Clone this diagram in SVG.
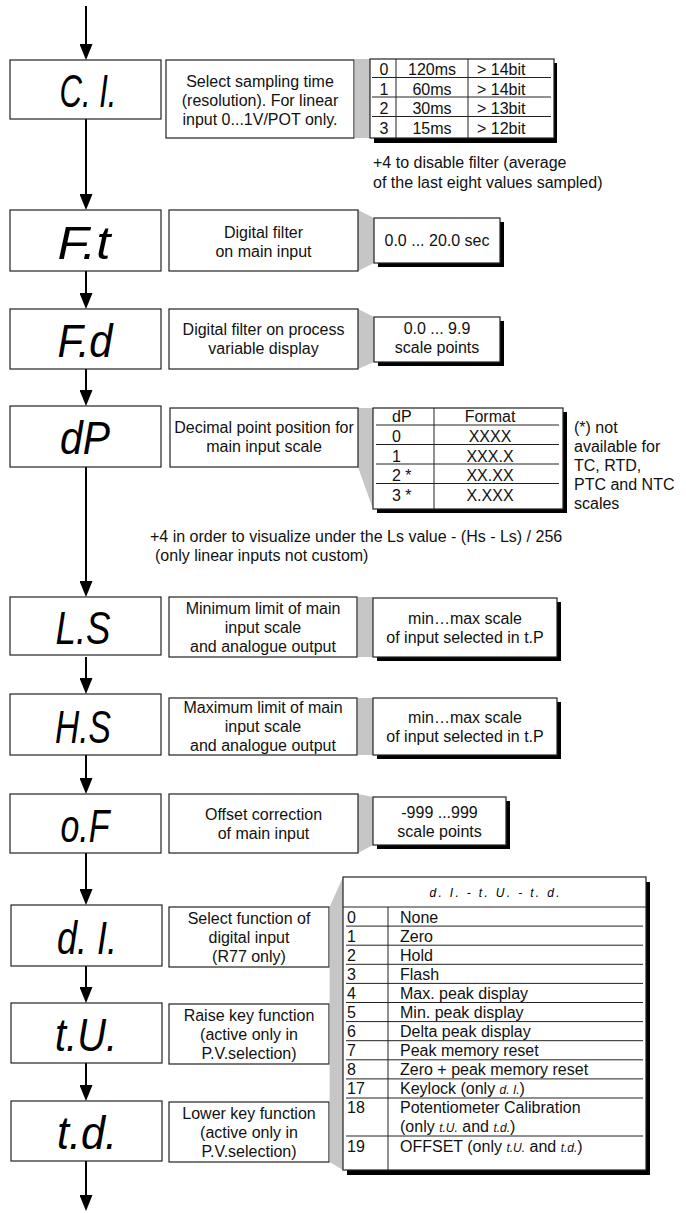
<svg xmlns="http://www.w3.org/2000/svg" width="686" height="1213" viewBox="0 0 686 1213">
<defs>
<marker id="ah" markerUnits="userSpaceOnUse" markerWidth="16" markerHeight="13" refX="8" refY="6.5" orient="auto">
<path d="M0,0 L16,6.5 L0,13 z" fill="#000"/>
</marker>
<style>
.box{fill:#fff;stroke:#222;stroke-width:1.2}
.sh{fill:#000}
.gr{fill:#c6c6c6}
.ln{stroke:#222;stroke-width:1;fill:none}
.t{font-family:"Liberation Sans",Arial,sans-serif;font-size:16px;fill:#111}
.c{text-anchor:middle}
.seg{font-family:"Liberation Sans",Arial,sans-serif;font-style:italic;font-size:46px;fill:#000;text-anchor:middle}
.ss{font-family:"Liberation Sans",Arial,sans-serif;font-style:italic;font-size:12px}
.ar{stroke:#000;stroke-width:2;fill:none;marker-end:url(#ah)}
</style>
</defs>
<rect width="686" height="1213" fill="#fff"/>

<g id="connectors">
<line class="ar" x1="86" y1="6" x2="86" y2="52"/>
<line class="ar" x1="86" y1="119" x2="86" y2="202"/>
<line class="ar" x1="86" y1="271" x2="86" y2="301"/>
<line class="ar" x1="86" y1="369" x2="86" y2="398"/>
<line class="ar" x1="86" y1="467" x2="86" y2="589"/>
<line class="ar" x1="86" y1="657" x2="86" y2="686"/>
<line class="ar" x1="86" y1="755" x2="86" y2="786"/>
<line class="ar" x1="86" y1="853" x2="86" y2="897"/>
<line class="ar" x1="86" y1="966" x2="86" y2="995"/>
<line class="ar" x1="86" y1="1063" x2="86" y2="1093"/>
<line class="ar" x1="86" y1="1161" x2="86" y2="1203"/>
</g>

<g id="node-CI">
<rect class="box" x="10" y="60" width="151" height="59"/>
<text class="seg" x="88" y="107" textLength="57" lengthAdjust="spacingAndGlyphs">C. I.</text>
<rect class="box" x="166" y="60" width="188" height="78"/>
<text class="t c" x="260" y="87">Select sampling time</text>
<text class="t c" x="260" y="106">(resolution). For linear</text>
<text class="t c" x="260" y="125">input 0...1V/POT only.</text>
<rect class="gr" x="354.6" y="59" width="15.4" height="79"/>
<rect class="sh" x="374" y="63" width="183" height="80"/>
<rect class="box" x="370" y="59" width="184" height="79"/>
<line class="ln" x1="372" y1="77.5" x2="551" y2="77.5"/>
<line class="ln" x1="372" y1="97" x2="551" y2="97"/>
<line class="ln" x1="372" y1="116.5" x2="551" y2="116.5"/>
<line class="ln" x1="396" y1="59" x2="396" y2="138"/>
<line class="ln" x1="468" y1="59" x2="468" y2="138"/>
<text class="t c" x="384" y="75">0</text>
<text class="t c" x="432" y="75">120ms</text>
<text class="t" x="477" y="75">&gt; 14bit</text>
<text class="t c" x="384" y="94.5">1</text>
<text class="t c" x="432" y="94.5">60ms</text>
<text class="t" x="477" y="94.5">&gt; 14bit</text>
<text class="t c" x="384" y="114">2</text>
<text class="t c" x="432" y="114">30ms</text>
<text class="t" x="477" y="114">&gt; 13bit</text>
<text class="t c" x="384" y="133.5">3</text>
<text class="t c" x="432" y="133.5">15ms</text>
<text class="t" x="477" y="133.5">&gt; 12bit</text>
<text class="t" x="373" y="168">+4 to disable filter (average</text>
<text class="t" x="373" y="188">of the last eight values sampled)</text>
</g>

<g id="node-Ft">
<rect class="box" x="10" y="210" width="151" height="61"/>
<text class="seg" x="84" y="259" textLength="53" lengthAdjust="spacingAndGlyphs">F.t</text>
<polygon class="gr" points="358,210 374,218 374,263 358,271"/>
<rect class="box" x="169" y="210" width="189" height="61"/>
<text class="t c" x="263.5" y="238">Digital filter</text>
<text class="t c" x="263.5" y="257">on main input</text>
<rect class="sh" x="378" y="222" width="126" height="45"/>
<rect class="box" x="374" y="218" width="126" height="45"/>
<text class="t c" x="437" y="246">0.0 ... 20.0 sec</text>
</g>

<g id="node-Fd">
<rect class="box" x="10" y="309" width="151" height="60"/>
<text class="seg" x="85" y="357" textLength="55" lengthAdjust="spacingAndGlyphs">F.d</text>
<polygon class="gr" points="358,309 374,317 374,362 358,369"/>
<rect class="box" x="169" y="309" width="189" height="60"/>
<text class="t c" x="263.5" y="335">Digital filter on process</text>
<text class="t c" x="263.5" y="354">variable display</text>
<rect class="sh" x="378" y="321" width="126" height="45"/>
<rect class="box" x="374" y="317" width="126" height="45"/>
<text class="t c" x="437" y="334">0.0 ... 9.9</text>
<text class="t c" x="437" y="353">scale points</text>
</g>

<g id="node-dP">
<rect class="box" x="10" y="406" width="151" height="61"/>
<text class="seg" x="85" y="454" textLength="50" lengthAdjust="spacingAndGlyphs">dP</text>
<polygon class="gr" points="358,408 373,408 373,509 358,467"/>
<rect class="box" x="170" y="408" width="188" height="59"/>
<text class="t c" x="264" y="433">Decimal point position for</text>
<text class="t c" x="264" y="452">main input scale</text>
<rect class="sh" x="377" y="412" width="190" height="101"/>
<rect class="box" x="373" y="408" width="190" height="101"/>
<line class="ln" x1="376" y1="425" x2="559" y2="425"/>
<line class="ln" x1="376" y1="444.5" x2="559" y2="444.5"/>
<line class="ln" x1="376" y1="464" x2="559" y2="464"/>
<line class="ln" x1="376" y1="483.5" x2="559" y2="483.5"/>
<line class="ln" x1="434" y1="408" x2="434" y2="509"/>
<text class="t" x="392" y="422">dP</text>
<text class="t c" x="490" y="422">Format</text>
<text class="t" x="392" y="442">0</text>
<text class="t c" x="490" y="442">XXXX</text>
<text class="t" x="392" y="461.5">1</text>
<text class="t c" x="490" y="461.5">XXX.X</text>
<text class="t" x="392" y="481">2 *</text>
<text class="t c" x="490" y="481">XX.XX</text>
<text class="t" x="392" y="500.5">3 *</text>
<text class="t c" x="490" y="500.5">X.XXX</text>
<text class="t" x="574" y="433">(*) not</text>
<text class="t" x="574" y="452">available for</text>
<text class="t" x="574" y="471">TC, RTD,</text>
<text class="t" x="574" y="490">PTC and NTC</text>
<text class="t" x="574" y="509">scales</text>
<text class="t" x="150" y="542">+4 in order to visualize under the Ls value - (Hs - Ls) / 256</text>
<text class="t" x="155" y="561">(only linear inputs not custom)</text>
</g>

<g id="node-LS">
<rect class="box" x="10" y="597" width="151" height="58"/>
<text class="seg" x="83" y="644" textLength="55" lengthAdjust="spacingAndGlyphs">L.S</text>
<rect class="gr" x="357.6" y="597" width="15.4" height="60"/>
<rect class="box" x="169" y="597" width="188" height="60"/>
<text class="t c" x="263" y="614">Minimum limit of main</text>
<text class="t c" x="263" y="633">input scale</text>
<text class="t c" x="263" y="652">and analogue output</text>
<rect class="sh" x="377" y="602" width="184" height="59"/>
<rect class="box" x="373" y="598" width="184" height="59"/>
<text class="t c" x="465" y="623.5">min…max scale</text>
<text class="t c" x="465" y="642.5">of input selected in t.P</text>
</g>

<g id="node-HS">
<rect class="box" x="10" y="694" width="151" height="61"/>
<text class="seg" x="83" y="743" textLength="56" lengthAdjust="spacingAndGlyphs">H.S</text>
<rect class="gr" x="357.6" y="698" width="15.4" height="57"/>
<rect class="box" x="169" y="698" width="188" height="57"/>
<text class="t c" x="263" y="713">Maximum limit of main</text>
<text class="t c" x="263" y="732">input scale</text>
<text class="t c" x="263" y="751">and analogue output</text>
<rect class="sh" x="377" y="702" width="184" height="57"/>
<rect class="box" x="373" y="698" width="184" height="57"/>
<text class="t c" x="465" y="722.5">min…max scale</text>
<text class="t c" x="465" y="741.5">of input selected in t.P</text>
</g>

<g id="node-oF">
<rect class="box" x="10" y="794" width="151" height="59"/>
<text class="seg" x="85" y="842" textLength="49" lengthAdjust="spacingAndGlyphs">o.F</text>
<polygon class="gr" points="358,794 373,797 373,845 358,853"/>
<rect class="box" x="169" y="794" width="189" height="59"/>
<text class="t c" x="263.5" y="820">Offset correction</text>
<text class="t c" x="263.5" y="839">of main input</text>
<rect class="sh" x="377" y="801" width="133" height="48"/>
<rect class="box" x="373" y="797" width="133" height="48"/>
<text class="t c" x="439.5" y="817.5">-999 ...999</text>
<text class="t c" x="439.5" y="836.5">scale points</text>
</g>

<g id="node-dI">
<rect class="box" x="11" y="905" width="151" height="61"/>
<text class="seg" x="87" y="954" textLength="60" lengthAdjust="spacingAndGlyphs">d. I.</text>
<rect class="box" x="169" y="907" width="160" height="60"/>
<text class="t c" x="249" y="923.5">Select function of</text>
<text class="t c" x="249" y="942.5">digital input</text>
<text class="t c" x="249" y="961.5">(R77 only)</text>
</g>

<g id="node-tU">
<rect class="box" x="11" y="1003" width="151" height="60"/>
<text class="seg" x="86" y="1051" textLength="62" lengthAdjust="spacingAndGlyphs">t.U.</text>
<rect class="box" x="169" y="1004" width="160" height="60"/>
<text class="t c" x="249" y="1020.5">Raise key function</text>
<text class="t c" x="249" y="1039.5">(active only in</text>
<text class="t c" x="249" y="1058.5">P.V.selection)</text>
</g>

<g id="node-td">
<rect class="box" x="11" y="1101" width="151" height="60"/>
<text class="seg" x="87" y="1149" textLength="60" lengthAdjust="spacingAndGlyphs">t.d.</text>
<rect class="box" x="169" y="1102" width="160" height="60"/>
<text class="t c" x="249" y="1118.5">Lower key function</text>
<text class="t c" x="249" y="1137.5">(active only in</text>
<text class="t c" x="249" y="1156.5">P.V.selection)</text>
</g>

<g id="table-functions">
<polygon class="gr" points="329.6,907 343,877 343,1170 329.6,1162"/>
<rect class="sh" x="347" y="882" width="303" height="293"/>
<rect class="box" x="343" y="877" width="303" height="293"/>
<text class="ss c" x="494.5" y="897" textLength="130" lengthAdjust="spacing">d. I. - t. U. - t. d.</text>
<line class="ln" x1="343" y1="907" x2="646" y2="907"/>
<line class="ln" x1="388" y1="907" x2="388" y2="1170"/>
<line class="ln" x1="346" y1="926.1" x2="643" y2="926.1"/>
<line class="ln" x1="346" y1="945.2" x2="643" y2="945.2"/>
<line class="ln" x1="346" y1="964.3" x2="643" y2="964.3"/>
<line class="ln" x1="346" y1="983.4" x2="643" y2="983.4"/>
<line class="ln" x1="346" y1="1002.5" x2="643" y2="1002.5"/>
<line class="ln" x1="346" y1="1021.6" x2="643" y2="1021.6"/>
<line class="ln" x1="346" y1="1040.7" x2="643" y2="1040.7"/>
<line class="ln" x1="346" y1="1059.8" x2="643" y2="1059.8"/>
<line class="ln" x1="346" y1="1078.9" x2="643" y2="1078.9"/>
<line class="ln" x1="346" y1="1098" x2="643" y2="1098"/>
<line class="ln" x1="346" y1="1136" x2="643" y2="1136"/>
<text class="t" x="347" y="922.5">0</text><text class="t" x="400" y="922.5">None</text>
<text class="t" x="347" y="941.6">1</text><text class="t" x="400" y="941.6">Zero</text>
<text class="t" x="347" y="960.7">2</text><text class="t" x="400" y="960.7">Hold</text>
<text class="t" x="347" y="979.8">3</text><text class="t" x="400" y="979.8">Flash</text>
<text class="t" x="347" y="998.9">4</text><text class="t" x="400" y="998.9">Max. peak display</text>
<text class="t" x="347" y="1018">5</text><text class="t" x="400" y="1018">Min. peak display</text>
<text class="t" x="347" y="1037.1">6</text><text class="t" x="400" y="1037.1">Delta peak display</text>
<text class="t" x="347" y="1056.2">7</text><text class="t" x="400" y="1056.2">Peak memory reset</text>
<text class="t" x="347" y="1075.3">8</text><text class="t" x="400" y="1075.3">Zero + peak memory reset</text>
<text class="t" x="347" y="1094.4">17</text><text class="t" x="400" y="1094.4">Keylock (only <tspan class="ss">d. I.</tspan>)</text>
<text class="t" x="347" y="1113">18</text><text class="t" x="400" y="1113">Potentiometer Calibration</text>
<text class="t" x="400" y="1132">(only <tspan class="ss">t.U.</tspan> and <tspan class="ss">t.d.</tspan>)</text>
<text class="t" x="347" y="1152">19</text><text class="t" x="400" y="1152">OFFSET (only <tspan class="ss">t.U.</tspan> and <tspan class="ss">t.d.</tspan>)</text>
</g>
</svg>
